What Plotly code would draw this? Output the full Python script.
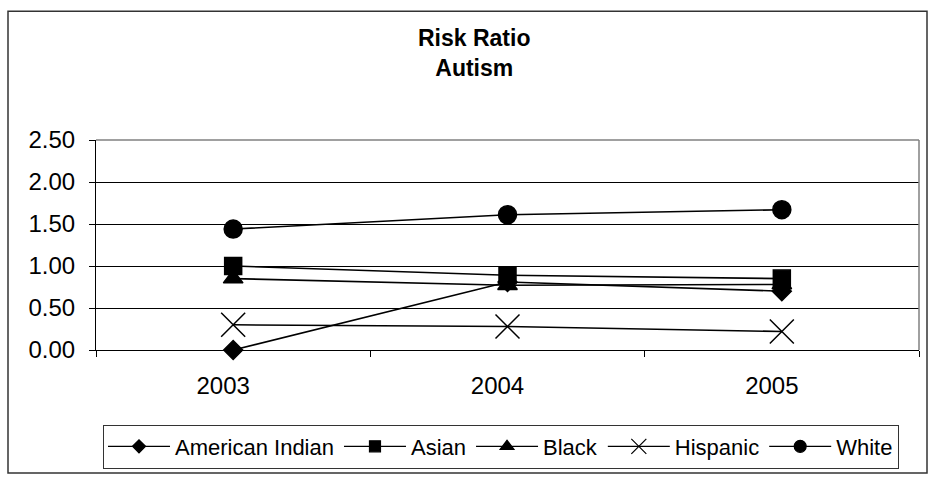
import plotly.graph_objects as go

# Risk ratio for autism by race/ethnicity, 2003-2005
years = ["2003", "2004", "2005"]
american_indian = [0.00, 0.81, 0.70]
asian = [1.00, 0.89, 0.85]
black = [0.85, 0.77, 0.78]
hispanic = [0.30, 0.28, 0.22]
white = [1.44, 1.61, 1.67]

y_ticks = [0.0, 0.5, 1.0, 1.5, 2.0, 2.5]

# name, values, marker symbol, plot marker size, legend marker size
series = [
    ("American Indian", american_indian, "diamond", 14.5, 10),
    ("Asian", asian, "square", 17, 11),
    ("Black", black, "triangle-up", 17, 12),
    ("Hispanic", hispanic, "x-thin-open", 24, 15),
    ("White", white, "circle", 18, 12),
]

W, H = 933, 480
L, R, T, B = 96, 919, 140, 357  # plot area in pixels

def px_x(p):
    return (p - L) / (R - L)

def px_y(p):
    return (B - p) / (B - T)

fig = go.Figure()
for name, vals, sym, size, leg_size in series:
    fig.add_trace(go.Scatter(
        x=years, y=vals, name=name, mode="lines+markers",
        legendgroup=name, showlegend=False, cliponaxis=False,
        line=dict(color="black", width=1.6),
        marker=dict(symbol=sym, size=size, color="black",
                    line=dict(color="black", width=1.5)),
    ))
    # legend key with smaller markers
    fig.add_trace(go.Scatter(
        x=[None], y=[None], name=name, mode="lines+markers",
        legendgroup=name, showlegend=True,
        line=dict(color="black", width=1.2),
        marker=dict(symbol=sym, size=leg_size, color="black",
                    line=dict(color="black", width=1.2)),
    ))

font = "Liberation Sans, Arial, sans-serif"
fs = 24

fig.update_layout(
    width=W, height=H,
    margin=dict(l=L, r=W - R, t=T, b=H - B),
    paper_bgcolor="white", plot_bgcolor="white",
    showlegend=True,
    font=dict(family=font, size=fs, color="black"),
    xaxis=dict(
        type="category", range=[-0.5, 2.5],
        showgrid=False, zeroline=False,
        showline=True, linecolor="black", linewidth=1,
        ticks="outside", tickson="boundaries", ticklen=6, tickcolor="black",
        tickfont=dict(family=font, size=fs, color="black"),
        ticklabelstandoff=14, ticklabelshift=-10,
    ),
    yaxis=dict(
        range=[0, 2.5], tickvals=y_ticks, tickformat=".2f",
        showgrid=True, gridcolor="black", gridwidth=1,
        zeroline=False,
        showline=True, linecolor="black", linewidth=1,
        ticks="outside", ticklen=6, tickcolor="black",
        tickfont=dict(family=font, size=fs, color="black"),
        ticklabelstandoff=9,
    ),
    legend=dict(
        orientation="h",
        x=px_x(103), xanchor="left",
        y=px_y(434), yanchor="top",
        bordercolor="#333333", borderwidth=1,
        bgcolor="white",
        font=dict(family=font, size=22, color="black"),
        itemwidth=62, itemsizing="trace",
        tracegroupgap=0,
    ),
    annotations=[dict(
        text="<b>Risk Ratio</b><br><b>Autism</b>",
        xref="paper", yref="paper",
        x=px_x(474), y=px_y(19), xanchor="center", yanchor="top",
        showarrow=False,
        font=dict(family=font, size=23, color="black"),
    )],
    shapes=[
        # grey frame on the top and right of the plot area
        dict(type="line", xref="paper", yref="paper", x0=0, x1=1, y0=1, y1=1,
             line=dict(color="#808080", width=1.5)),
        dict(type="line", xref="paper", yref="paper", x0=1, x1=1, y0=0, y1=1,
             line=dict(color="#808080", width=1.5)),
        # outer chart border
        dict(type="rect", xref="paper", yref="paper",
             x0=px_x(8), x1=px_x(927), y0=px_y(484), y1=px_y(7),
             line=dict(color="#333333", width=1.5), layer="below"),
    ],
)

fig.write_html("out.html")
